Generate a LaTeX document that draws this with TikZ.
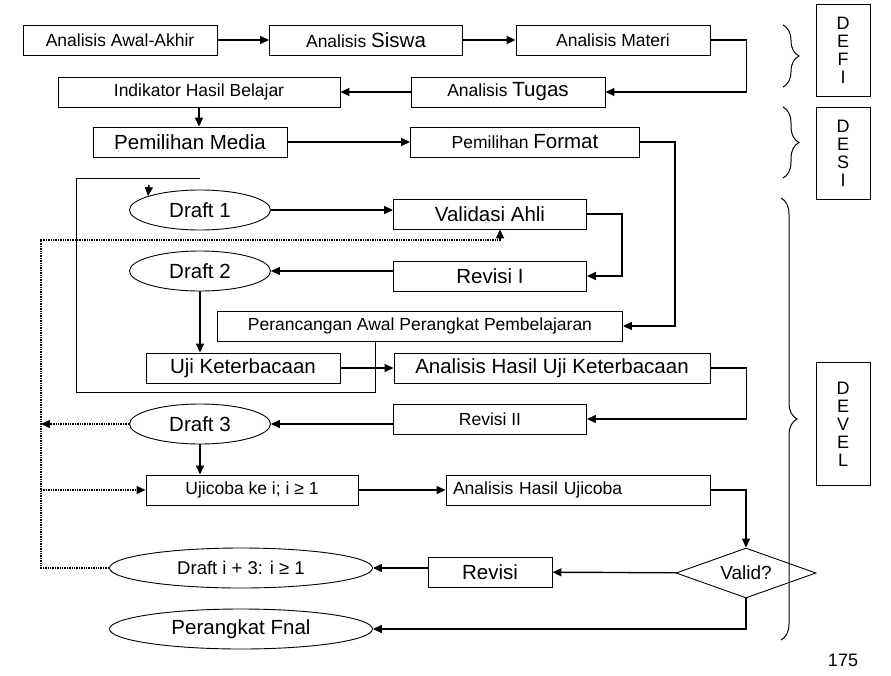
\documentclass[tikz,border=0pt]{standalone}
\usepackage{fontspec}
\setmainfont{Liberation Sans}
\usepackage{tikz}
\usetikzlibrary{shapes.geometric, arrows.meta, positioning, decorations.pathreplacing}
\newcommand{\bigword}[1]{{\fontsize{20.5}{23}\selectfont #1}}
\tikzset{
  stepbox/.style={rectangle, draw=black, line width=0.9pt, minimum height=30pt, inner sep=1pt, font=\fontsize{17.5}{20}\selectfont, align=center},
  bigbox/.style={stepbox, font=\fontsize{20.5}{23}\selectfont},
  draftnode/.style={ellipse, draw=black, line width=0.9pt, minimum height=40pt, inner sep=0pt, font=\fontsize{20.5}{23}\selectfont},
  decisionnode/.style={diamond, draw=black, line width=0.9pt, minimum width=140pt, minimum height=50pt, inner sep=0pt, aspect=2.8, font=\fontsize{19}{22}\selectfont},
  phasebox/.style={rectangle, draw=black, line width=0.9pt, minimum width=54pt, inner sep=2pt, font=\fontsize{18}{18}\selectfont, align=center},
  arrow/.style={-{Triangle[length=9pt,width=8pt]}, line width=1.4pt},
  plainline/.style={line width=1pt},
  dottedarrow/.style={-{Triangle[length=9pt,width=8pt]}, line width=1.4pt, densely dotted},
  phasebrace/.style={decorate, decoration={brace, amplitude=16pt}, line width=1pt}
}
\begin{document}
\begin{tikzpicture}[x=1pt, y=-1pt]
  \useasboundingbox (0,0) rectangle (891,675);

  \node[stepbox, minimum width=194pt] (awal) at (120,40) {Analisis Awal-Akhir};
  \node[stepbox, minimum width=193pt] (siswa) at (366,40) {Analisis \bigword{Siswa}};
  \node[stepbox, minimum width=194pt] (materi) at (613,40) {Analisis Materi};
  \node[stepbox, minimum width=194pt] (tugas) at (508,92) {Analisis \bigword{Tugas}};
  \node[stepbox, minimum width=282pt] (indikator) at (199,92) {Indikator Hasil Belajar};
  \node[bigbox, minimum width=194pt] (media) at (190,142) {Pemilihan Media};
  \node[stepbox, minimum width=229pt] (format) at (525,142) {Pemilihan \bigword{Format}};

  \node[draftnode, minimum width=141pt] (draft1) at (200,210) {Draft 1};
  \node[bigbox, minimum width=193pt] (validasi) at (490,214) {Validasi Ahli};
  \node[bigbox, minimum width=193pt] (revisia) at (490,276) {Revisi I};
  \node[draftnode, minimum width=141pt] (draft2) at (200,271) {Draft 2};
  \node[stepbox, minimum width=405pt] (rancang) at (420,326) {Perancangan Awal Perangkat Pembelajaran};
  \node[bigbox, minimum width=194pt] (uji) at (243,368) {Uji Keterbacaan};
  \node[bigbox, minimum width=316pt] (hasiluji) at (552,368) {Analisis Hasil Uji Keterbacaan};
  \node[stepbox, minimum width=193pt] (revisib) at (490,419) {Revisi II};
  \node[draftnode, minimum width=141pt] (draft3) at (200,424) {Draft 3};
  \node[stepbox, minimum width=212pt] (ujicoba) at (252,490) {Ujicoba ke i; i ≥ 1};
  \node[stepbox, minimum width=264pt, text width=250pt, align=left] (hasilcoba) at (578,490) {Analisis Hasil Ujicoba};
  \node[decisionnode] (valid) at (746,573) {Valid?};
  \node[bigbox, minimum width=124pt] (revisi) at (490,572) {Revisi};
  \node[draftnode, minimum width=263pt, font=\fontsize{18.5}{21}\selectfont] (drafti) at (241,568) {Draft i + 3: i ≥ 1};
  \node[draftnode, minimum width=263pt] (final) at (241,629) {Perangkat Fnal};

  \node[phasebox, minimum height=92pt] (define) at (843,50) {D\\E\\F\\I};
  \node[phasebox, minimum height=92pt] (design) at (843,153) {D\\E\\S\\I};
  \node[phasebox, minimum height=123pt] (develop) at (843,424) {D\\E\\V\\E\\L};
  \draw[phasebrace] (783,25) -- (783,87);
  \draw[phasebrace] (783,107) -- (783,178);
  \draw[phasebrace] (781,198) -- (781,640);
  \node[font=\fontsize{18}{20}\selectfont, inner sep=1pt] (page) at (843,660) {175};

  \draw[arrow] (awal) -- (siswa);
  \draw[arrow] (siswa) -- (materi);
  \draw[arrow] (materi.east) -- ++(36,0) |- (tugas.east);
  \draw[arrow] (tugas) -- (indikator);
  \draw[arrow] (indikator.south) -- (indikator.south |- media.north);
  \draw[arrow] (media) -- (format);
  \draw[arrow] (format.east) -- ++(35,0) |- (rancang.east);

  \coordinate (loopbot) at (375,392);
  \coordinate (loopleft) at (76,178);
  \coordinate (looptop) at (200,178);
  \coordinate (loopin) at (149,185);
  \draw[plainline] (loopbot |- rancang.south) -- (loopbot) -| (loopleft) -- (looptop);
  \draw[arrow] (loopin) -- (draft1.165);

  \draw[arrow] (draft1.east) -- (draft1.east -| validasi.west);
  \draw[arrow] (validasi.east) -- ++(35,0) |- (revisia.east);
  \draw[arrow] (revisia.west |- draft2.east) -- (draft2.east);
  \draw[arrow] (draft2.south) -- (draft2.south |- uji.north);
  \draw[arrow] (uji) -- (hasiluji);
  \draw[arrow] (hasiluji.east) -- ++(36,0) |- (revisib.east);
  \draw[arrow] (revisib.west |- draft3.east) -- (draft3.east);
  \draw[arrow] (draft3.south) -- (draft3.south |- ujicoba.north);
  \draw[arrow] (ujicoba) -- (hasilcoba);
  \draw[arrow] (hasilcoba.east) -| (valid.north);
  \draw[arrow] (valid) -- (revisi);
  \draw[arrow] (revisi.west |- drafti.east) -- (drafti.east);
  \draw[arrow] (valid.south) |- (final.east);

  \coordinate (fback) at (41,240);
  \draw[dottedarrow] (drafti.west) -| (fback) -| ([xshift=10pt]validasi.south);
  \draw[dottedarrow] (draft3.west) -- (draft3.west -| fback);
  \draw[dottedarrow] (fback |- ujicoba.west) -- (ujicoba.west);
\end{tikzpicture}
\end{document}
